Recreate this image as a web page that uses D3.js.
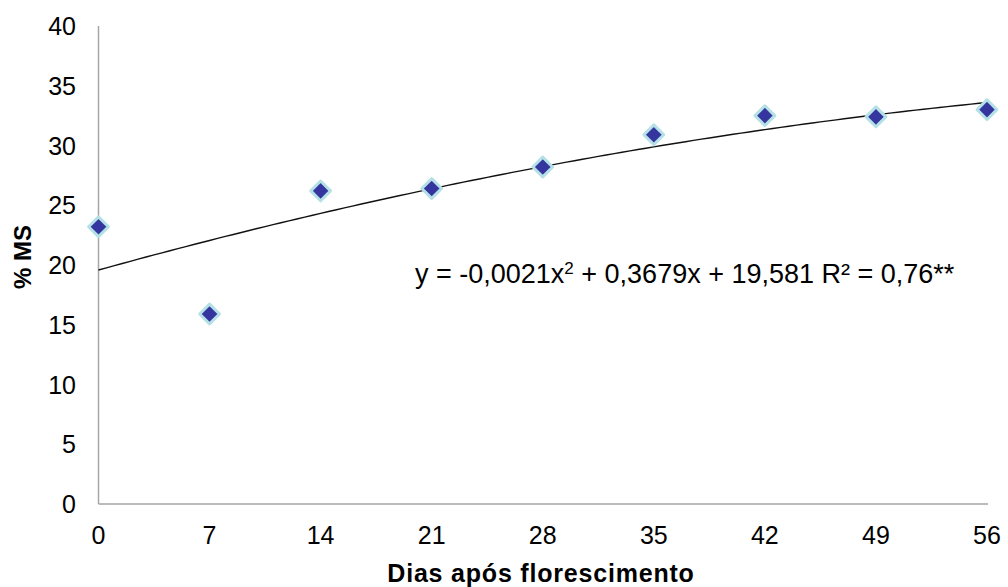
<!DOCTYPE html>
<html>
<head>
<meta charset="utf-8">
<script src="https://cdn.jsdelivr.net/npm/d3@7"></script>
<style>
  body { margin: 0; background: #fff; }
  svg { font-family: "Liberation Sans", Arial, sans-serif; }
</style>
</head>
<body>
<svg width="1008" height="587"></svg>
<script>
// data
const days = [0, 7, 14, 21, 28, 35, 42, 49, 56];
const ms = [23.2, 15.9, 26.2, 26.4, 28.2, 30.9, 32.5, 32.4, 33.0];
const xTicks = [0, 7, 14, 21, 28, 35, 42, 49, 56];
const yTicks = [0, 5, 10, 15, 20, 25, 30, 35, 40];
// trendline coefficients as printed: a*x^2 + b*x + c
const coef = [-0.0021, 0.3679, 19.581];

const svg = d3.select("svg");

// scales
const x = d3.scaleLinear().domain([0, 56]).range([98.5, 987]);
const y = d3.scaleLinear().domain([0, 40]).range([504, 26]);

// axes lines
svg.append("line")
  .attr("x1", x(0)).attr("x2", x(0))
  .attr("y1", y(40)).attr("y2", y(0))
  .attr("stroke", "#a6a6a6").attr("stroke-width", 1.5);
svg.append("line")
  .attr("x1", x(0)).attr("x2", x(56) + 1)
  .attr("y1", y(0)).attr("y2", y(0))
  .attr("stroke", "#a6a6a6").attr("stroke-width", 1.5);

// tick labels
svg.selectAll(".ylab")
  .data(yTicks)
  .enter()
  .append("text")
  .attr("class", "ylab")
  .attr("x", 76)
  .attr("y", d => y(d) + 9)
  .attr("text-anchor", "end")
  .attr("font-size", 25)
  .attr("fill", "#000")
  .text(d => d);

svg.selectAll(".xlab")
  .data(xTicks)
  .enter()
  .append("text")
  .attr("class", "xlab")
  .attr("x", d => x(d))
  .attr("y", 544)
  .attr("text-anchor", "middle")
  .attr("font-size", 25)
  .attr("fill", "#000")
  .text(d => d);

// trendline
const line = d3.line()
  .x(d => x(d))
  .y(d => y(coef[0] * d * d + coef[1] * d + coef[2]));
svg.append("path")
  .datum(d3.range(0, 56.01, 0.5))
  .attr("d", line)
  .attr("fill", "none")
  .attr("stroke", "#111")
  .attr("stroke-width", 1.4);

// diamond markers
const diamond = d3.symbol().type(d3.symbolDiamond2).size(250);
svg.selectAll(".pt")
  .data(days)
  .enter()
  .append("path")
  .attr("class", "pt")
  .attr("transform", (d, i) => "translate(" + x(d) + "," + y(ms[i]) + ")")
  .attr("d", diamond)
  .attr("fill", "#3535a0")
  .attr("stroke", "#b4e0e6")
  .attr("stroke-width", 3)
  .attr("stroke-linejoin", "round");

// equation
const eq = svg.append("text")
  .attr("x", 415)
  .attr("y", 283)
  .attr("font-size", 27)
  .attr("fill", "#000");
eq.append("tspan").text("y = -0,0021x");
eq.append("tspan").attr("font-size", 17).attr("dy", -9).text("2");
eq.append("tspan").attr("dy", 9).text(" + 0,3679x + 19,581 R² = 0,76**");

// axis titles
svg.append("text")
  .attr("transform", "translate(31,257) rotate(-90)")
  .attr("text-anchor", "middle")
  .attr("font-size", 24)
  .attr("font-weight", "bold")
  .text("% MS");

svg.append("text")
  .attr("x", 541)
  .attr("y", 582)
  .attr("text-anchor", "middle")
  .attr("font-size", 25)
  .attr("letter-spacing", 0.8)
  .attr("font-weight", "bold")
  .text("Dias após florescimento");
</script>
</body>
</html>
